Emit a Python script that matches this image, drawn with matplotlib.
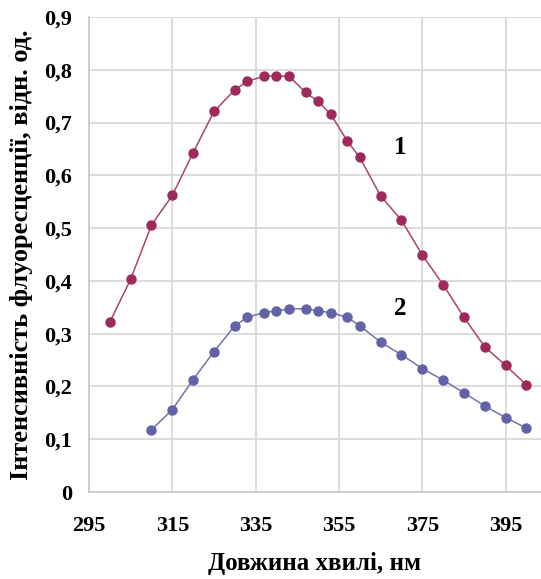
import matplotlib
matplotlib.use("Agg")
import matplotlib.pyplot as plt
from matplotlib.ticker import FuncFormatter

x1 = [300, 305, 310, 315, 320, 325, 330, 333, 337, 340, 343, 347, 350, 353, 357,
      360, 365, 370, 375, 380, 385, 390, 395, 400]
y1 = [0.322, 0.403, 0.506, 0.562, 0.643, 0.721, 0.762, 0.778, 0.788, 0.788, 0.788,
      0.757, 0.740, 0.716, 0.665, 0.634, 0.561, 0.515, 0.449, 0.393, 0.331, 0.275,
      0.240, 0.203]
x2 = [310, 315, 320, 325, 330, 333, 337, 340, 343, 347, 350, 353, 357,
      360, 365, 370, 375, 380, 385, 390, 395, 400]
y2 = [0.118, 0.156, 0.213, 0.266, 0.315, 0.331, 0.340, 0.343, 0.347, 0.347, 0.343,
      0.340, 0.331, 0.315, 0.284, 0.260, 0.234, 0.212, 0.188, 0.163, 0.141, 0.121]
xticks = [295, 315, 335, 355, 375, 395]
yticks = [0, 0.1, 0.2, 0.3, 0.4, 0.5, 0.6, 0.7, 0.8, 0.9]
series_labels = ["1", "2"]

plt.rcParams['font.family'] = ['Liberation Serif', 'DejaVu Serif']

fig = plt.figure(figsize=(5.41, 5.79), dpi=100)
ax = fig.add_axes([89/541, 87/579, (541-89)/541, (492-17)/579])

c1 = '#9E2A5C'
c2 = '#6262A6'
ax.plot(x1, y1, '-', color='#A5456F', lw=1.1, marker='o', ms=6.5, mec=c1, mfc=c1, zorder=3)
ax.plot(x2, y2, '-', color='#7373AE', lw=1.1, marker='o', ms=6.5, mec=c2, mfc=c2, zorder=3)

ax.set_xlim(295, 403.5)
ax.set_ylim(0, 0.9)
ax.set_xticks(xticks)
ax.set_yticks(yticks)
ax.yaxis.set_major_formatter(FuncFormatter(lambda v, p: '0' if abs(v) < 1e-9 else f'{v:.1f}'.replace('.', ',')))
ax.grid(True, color='#D9D9D9', lw=1.3)
ax.set_axisbelow(True)
for s in ['top', 'right']:
    ax.spines[s].set_visible(False)
for s in ['left', 'bottom']:
    ax.spines[s].set_color('#C8C8C8')
    ax.spines[s].set_linewidth(1.2)
ax.tick_params(length=0, labelsize=16)
ax.tick_params(axis='x', pad=17)
ax.tick_params(axis='y', pad=12)
for lab in ax.get_xticklabels() + ax.get_yticklabels():
    lab.set_fontweight('bold')

ax.set_xlabel('Довжина хвилі, нм', fontsize=18, fontweight='bold', labelpad=12)
ax.set_ylabel('Інтенсивність флуоресценції, відн. од.', fontsize=19, fontweight='bold', labelpad=8)

ax.text(369.6, 0.653, series_labels[0], fontsize=18, fontweight='bold', ha='center', va='center')
ax.text(369.6, 0.347, series_labels[1], fontsize=18, fontweight='bold', ha='center', va='center')

fig.savefig('out.png', dpi=100)
